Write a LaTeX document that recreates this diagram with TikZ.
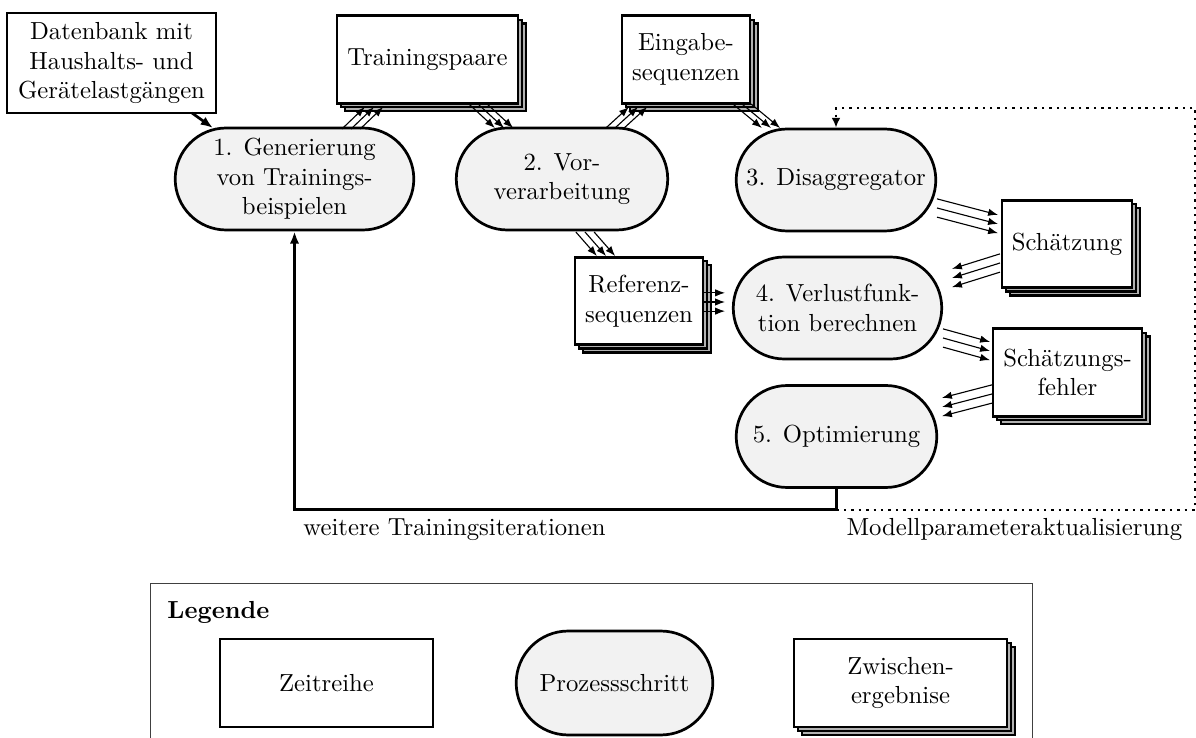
\documentclass[tikz,border=0pt]{standalone}
\usetikzlibrary{shapes.misc,shadows,arrows.meta,calc}

% three parallel thin arrows, shifted sideways along #1 (xshift or yshift)
\newcommand\parallelflows[3]{%
  \foreach \k in {-1,0,1}{%
    \draw[flow, transform canvas={#1={\k*3.7pt}}] #2 -- #3;}}

\begin{document}
\begin{tikzpicture}[x=0.405pt,y=-0.405pt,
  series/.style={draw, line width=1.1pt, fill=white, align=center,
    minimum height=35.4pt, inner sep=3.33pt},
  interim/.style={series, double copy shadow={shadow xshift=1.6pt,
    shadow yshift=-1.6pt, fill=gray!60, draw=black, line width=1pt}},
  process/.style={rounded rectangle, draw, line width=1.1pt, fill=gray!10,
    align=center, minimum height=41.3pt},
  flow/.style={line width=0.45pt, -{Latex[length=4pt,width=3pt]}},
  mainflow/.style={line width=1.1pt, -{Latex[length=5pt,width=3.8pt]}},
  update/.style={line width=1pt, dotted, -{Latex[length=4pt,width=3.6pt]}},
  frame/.style={draw=black!75, line width=0.4pt},
  caption/.style={anchor=base west, inner sep=0pt}
]
\useasboundingbox (0,0) rectangle (1196,738);

% data and intermediate results
\node[series, minimum width=84.6pt, minimum height=40.5pt] (db) at (111.5,63)
  {Datenbank mit\\Haushalts- und\\Gerätelastgängen};
\node[interim, minimum width=73.3pt] (tp) at (427.5,59.5) {Trainingspaare};
\node[interim, minimum width=51.8pt] (es) at (686,59.5) {Eingabe-\\sequenzen};
\node[interim, minimum width=52.6pt] (sch) at (1067,244) {Schätzung};
\node[interim, minimum width=51.8pt] (ref) at (639,301) {Referenz-\\sequenzen};
\node[interim, minimum width=60.3pt] (sf) at (1067.5,372.5) {Schätzungs-\\fehler};

% process steps
\node[process, minimum width=103.3pt] (n1) at (294.5,179)
  {1. Generierung\\von Trainings-\\beispielen};
\node[process, minimum width=92.3pt] (n2) at (562,179) {2. Vor-\\verarbeitung};
\node[process, minimum width=87.5pt] (n3) at (836,180) {3. Disaggregator};
\node[process, minimum width=91.1pt] (n4) at (837.5,308)
  {4. Verlustfunk-\\tion berechnen};
\node[process, minimum width=87.9pt] (n5) at (836.5,436.5) {5. Optimierung};

% data flow
\draw[mainflow] ($(db.center)+(80.5,50)$) -- ($(n1.center)+(-81.5,-51)$);
\parallelflows{xshift}{($(n1.center)+(56.5,-50)$)}{($(tp.center)+(-53.5,47.5)$)}
\parallelflows{xshift}{($(tp.center)+(50.5,44.5)$)}{($(n2.center)+(-58,-51)$)}
\parallelflows{xshift}{($(n2.center)+(53,-51)$)}{($(es.center)+(-48,47.5)$)}
\parallelflows{xshift}{($(es.center)+(56,44.5)$)}{($(n3.center)+(-65,-52)$)}
\parallelflows{yshift}{($(n3.center)+(101,28)$)}{($(sch.center)+(-69,-20)$)}
\parallelflows{yshift}{($(sch.center)+(-67,19)$)}{($(n4.center)+(114.5,-30)$)}
\parallelflows{yshift}{($(ref.center)+(64,1)$)}{($(n4.center)+(-112.5,-6)$)}
\parallelflows{xshift}{($(n2.center)+(23,53)$)}{($(ref.center)+(-33,-45)$)}
\parallelflows{yshift}{($(n4.center)+(105.5,30)$)}{($(sf.center)+(-77.5,-21.5)$)}
\parallelflows{yshift}{($(sf.center)+(-75.5,21.5)$)}{($(n5.center)+(105.5,-29.5)$)}

% training loops
\coordinate (loop) at ($(n5.south)+(0,21)$);
\coordinate (ne) at (1195,108);
\draw[mainflow] (n5.south) -- (loop) -| (n1.south);
\draw[update] (loop) -| (ne) -| (n3.north);
\node[caption] (iter) at (303,535) {weitere Trainingsiterationen};
\node[caption] (upd) at (846,535) {Modellparameteraktualisierung};

% legend
\draw[frame] (150,738) -- (150,583) -- (1032,583) -- (1032,738);
\node[caption, font=\bfseries] (legtitle) at (167,618) {Legende};
\node[series, minimum width=86.3pt, minimum height=35.6pt] (lz) at (326.5,683) {Zeitreihe};
\node[process, minimum width=86.3pt, minimum height=42.1pt] (lp) at (614.5,683) {Prozessschritt};
\node[interim, minimum width=86.3pt, minimum height=35.6pt] (lw) at (900.5,683) {Zwischen-\\ergebnise};
\end{tikzpicture}
\end{document}
